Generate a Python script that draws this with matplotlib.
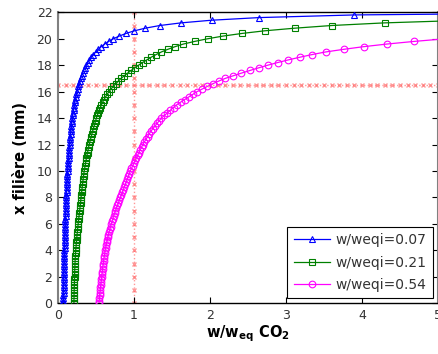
import matplotlib
matplotlib.use("Agg")
import matplotlib.pyplot as plt

# Position along the die (mm), shared sampling grid of the simulations
positions = [0.0, 0.2, 0.4, 0.6, 0.8, 1.0, 1.2, 1.4, 1.6, 1.8, 2.0,
             2.2, 2.4, 2.6, 2.8, 3.0, 3.2, 3.4, 3.6, 3.8, 4.0,
             4.2, 4.4, 4.6, 4.8, 5.0, 5.2, 5.4, 5.6, 5.8, 6.0,
             6.2, 6.4, 6.6, 6.8, 7.0, 7.2, 7.4, 7.6, 7.8, 8.0,
             8.2, 8.4, 8.6, 8.8, 9.0, 9.2, 9.4, 9.6, 9.8, 10.0,
             10.2, 10.4, 10.6, 10.8, 11.0, 11.2, 11.4, 11.6, 11.8, 12.0,
             12.2, 12.4, 12.6, 12.8, 13.0, 13.2, 13.4, 13.6, 13.8, 14.0,
             14.2, 14.4, 14.6, 14.8, 15.0, 15.2, 15.4, 15.6, 15.8, 16.0,
             16.2, 16.4, 16.6, 16.8, 17.0, 17.2, 17.4, 17.6, 17.8, 18.0,
             18.2, 18.4, 18.6, 18.8, 19.0, 19.2, 19.4, 19.6, 19.8, 20.0,
             20.2, 20.4, 20.6, 20.8, 21.0, 21.2, 21.4, 21.6, 21.8, 22.0]

# w/weq CO2 for w/weqi = 0.07
ratio_007 = [0.070, 0.071, 0.071, 0.072, 0.073, 0.073, 0.074, 0.075, 0.075, 0.076, 0.077,
             0.078, 0.078, 0.079, 0.080, 0.081, 0.082, 0.083, 0.084, 0.084, 0.085,
             0.086, 0.087, 0.088, 0.089, 0.090, 0.091, 0.093, 0.094, 0.095, 0.096,
             0.097, 0.098, 0.100, 0.101, 0.102, 0.104, 0.105, 0.106, 0.108, 0.109,
             0.111, 0.113, 0.114, 0.116, 0.118, 0.120, 0.121, 0.123, 0.125, 0.127,
             0.130, 0.132, 0.134, 0.136, 0.139, 0.141, 0.144, 0.147, 0.149, 0.152,
             0.155, 0.159, 0.162, 0.165, 0.169, 0.173, 0.177, 0.181, 0.185, 0.190,
             0.194, 0.199, 0.205, 0.210, 0.216, 0.222, 0.229, 0.236, 0.243, 0.251,
             0.259, 0.268, 0.278, 0.288, 0.299, 0.311, 0.324, 0.338, 0.353, 0.372,
             0.392, 0.413, 0.437, 0.464, 0.495, 0.530, 0.570, 0.615, 0.668, 0.730,
             0.805, 0.895, 1.005, 1.150, 1.340, 1.620, 2.020, 2.650, 3.900, 7.770]

# w/weq CO2 for w/weqi = 0.21
ratio_021 = [0.210, 0.210, 0.211, 0.211, 0.212, 0.213, 0.214, 0.215, 0.216, 0.217, 0.218,
             0.219, 0.220, 0.221, 0.222, 0.224, 0.225, 0.227, 0.229, 0.231, 0.233,
             0.236, 0.239, 0.242, 0.245, 0.248, 0.251, 0.255, 0.258, 0.262, 0.265,
             0.269, 0.273, 0.277, 0.281, 0.285, 0.289, 0.293, 0.297, 0.300, 0.303,
             0.307, 0.311, 0.315, 0.319, 0.323, 0.327, 0.331, 0.336, 0.340, 0.345,
             0.351, 0.357, 0.363, 0.369, 0.375, 0.382, 0.389, 0.396, 0.403, 0.410,
             0.419, 0.428, 0.437, 0.446, 0.455, 0.465, 0.475, 0.485, 0.495, 0.505,
             0.517, 0.529, 0.542, 0.556, 0.570, 0.587, 0.605, 0.625, 0.647, 0.670,
             0.697, 0.727, 0.760, 0.795, 0.830, 0.872, 0.916, 0.962, 1.010, 1.060,
             1.113, 1.168, 1.225, 1.290, 1.360, 1.445, 1.540, 1.650, 1.800, 1.970,
             2.170, 2.420, 2.720, 3.120, 3.600, 4.300, 5.400]

# w/weq CO2 for w/weqi = 0.54
ratio_054 = [0.540, 0.543, 0.546, 0.549, 0.552, 0.555, 0.559, 0.563, 0.567, 0.571, 0.575,
             0.579, 0.583, 0.587, 0.591, 0.595, 0.600, 0.605, 0.610, 0.615, 0.620,
             0.627, 0.634, 0.641, 0.648, 0.655, 0.664, 0.673, 0.682, 0.691, 0.700,
             0.711, 0.722, 0.733, 0.744, 0.756, 0.769, 0.782, 0.795, 0.808, 0.821,
             0.834, 0.847, 0.860, 0.873, 0.886, 0.899, 0.912, 0.925, 0.938, 0.951,
             0.967, 0.983, 0.999, 1.015, 1.031, 1.048, 1.065, 1.082, 1.099, 1.116,
             1.137, 1.158, 1.179, 1.200, 1.221, 1.248, 1.276, 1.304, 1.332, 1.360,
             1.400, 1.440, 1.480, 1.520, 1.560, 1.612, 1.666, 1.720, 1.775, 1.830,
             1.898, 1.966, 2.038, 2.115, 2.200, 2.305, 2.413, 2.525, 2.640, 2.760,
             2.890, 3.030, 3.180, 3.340, 3.520, 3.760, 4.020, 4.330, 4.690, 5.100]

series_labels = ["w/weqi=0.07", "w/weqi=0.21", "w/weqi=0.54"]

# Reference lines
ref_position = 16.5
ref_ratio = 1.0
hline_ratios = [0.0, 0.1, 0.2, 0.3, 0.4, 0.5, 0.6, 0.7, 0.8, 0.9,
                1.0, 1.1, 1.2, 1.3, 1.4, 1.5, 1.6, 1.7, 1.8, 1.9,
                2.0, 2.1, 2.2, 2.3, 2.4, 2.5, 2.6, 2.7, 2.8, 2.9,
                3.0, 3.1, 3.2, 3.3, 3.4, 3.5, 3.6, 3.7, 3.8, 3.9,
                4.0, 4.1, 4.2, 4.3, 4.4, 4.5, 4.6, 4.7, 4.8, 4.9, 5.0]
vline_positions = [0, 1, 2, 3, 4, 5, 6, 7, 8, 9, 10, 11, 12,
                   13, 14, 15, 16, 17, 18, 19, 20, 21, 22]

xticks = [0, 1, 2, 3, 4, 5]
yticks = [0, 2, 4, 6, 8, 10, 12, 14, 16, 18, 20, 22]

fig = plt.figure(figsize=(4.39, 3.54), dpi=100)
ax = fig.add_axes([0.1321, 0.1432, 0.8656, 0.8221])

red = "#ff6060"
ax.plot(hline_ratios, [ref_position] * len(hline_ratios), linestyle=":",
        color=red, lw=1.0, marker="x", ms=3, mew=1.0, alpha=0.65, zorder=1)
ax.plot([ref_ratio] * len(vline_positions), vline_positions, linestyle=":",
        color=red, lw=1.0, marker="x", ms=3, mew=1.0, alpha=0.65, zorder=1)

ax.plot(ratio_007, positions[:len(ratio_007)], color="#0000ff", lw=0.9,
        marker="^", ms=4.6, mfc="none", mew=0.8, label=series_labels[0], zorder=3)
ax.plot(ratio_021, positions[:len(ratio_021)], color="#008000", lw=0.9,
        marker="s", ms=4.6, mfc="none", mew=0.8, label=series_labels[1], zorder=3)
ax.plot(ratio_054, positions[:len(ratio_054)], color="#ff00ff", lw=0.9,
        marker="o", ms=4.8, mfc="none", mew=0.8, label=series_labels[2], zorder=3)

ax.set_xlim(0, 5)
ax.set_ylim(0, 22)
ax.set_xticks(xticks)
ax.set_yticks(yticks)
ax.tick_params(direction="in", top=True, right=True, length=4, width=0.8,
               labelsize=9, labelcolor="#333333", pad=4)
for side in ["left", "right"]:
    ax.spines[side].set_color("#808080")
    ax.spines[side].set_linewidth(1.5)
for side in ["top", "bottom"]:
    ax.spines[side].set_color("black")
    ax.spines[side].set_linewidth(1.0)

ax.set_xlabel(r"w/w$_{\mathbf{eq}}$ CO$_{\mathbf{2}}$", fontsize=10.5,
              fontweight="bold", labelpad=1)
ax.set_ylabel("x filière (mm)", fontsize=10.5, fontweight="bold", labelpad=6)

leg = ax.legend(loc="lower right", fontsize=10, frameon=True, fancybox=False,
                edgecolor="black", framealpha=1, handlelength=2.6,
                borderaxespad=0.35, labelspacing=0.62, handletextpad=0.45,
                borderpad=0.45)
leg.get_frame().set_linewidth(0.8)
for t in leg.get_texts():
    t.set_color("#333333")

fig.savefig("out.png", dpi=100)
